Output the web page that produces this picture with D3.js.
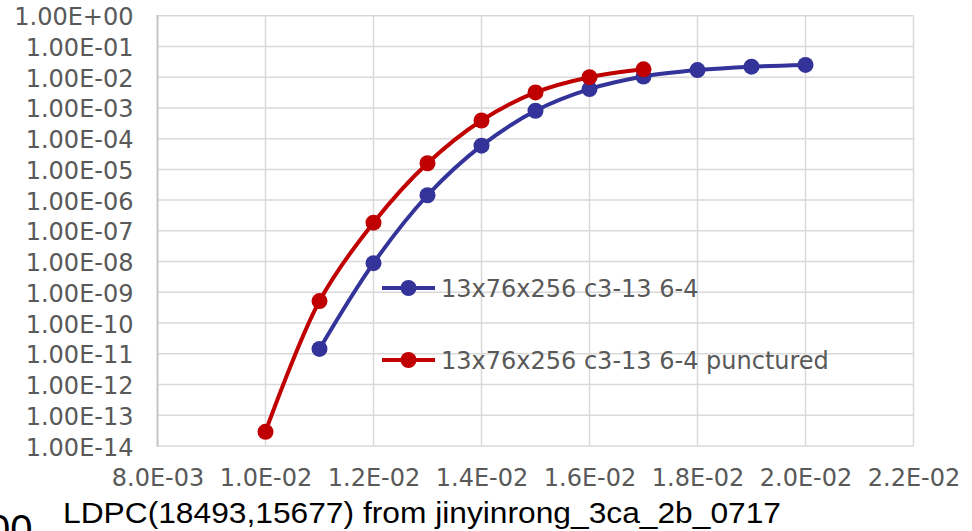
<!DOCTYPE html>
<html>
<head>
<meta charset="utf-8">
<script src="https://cdnjs.cloudflare.com/ajax/libs/d3/7.8.5/d3.min.js"></script>
<style>
  html, body { margin: 0; padding: 0; background: #fff; overflow: hidden; }
  svg { display: block; }
  .tick text { font-family: "DejaVu Sans", Verdana, sans-serif; font-size: 24px; fill: #595959; }
  .legend text { font-family: "DejaVu Sans", Verdana, sans-serif; font-size: 24px; fill: #595959; }
  .caption { font-family: "Liberation Sans", Arial, sans-serif; font-size: 30px; fill: #000; }
</style>
</head>
<body>
<svg id="chart1" width="972" height="531"></svg>
<script>
// values
let seriesNames = ["13x76x256 c3-13 6-4", "13x76x256 c3-13 6-4 punctured"];
let xBlue = [0.011, 0.012, 0.013, 0.014, 0.015, 0.016, 0.017, 0.018, 0.019, 0.020];
let yBlue = [1.44e-11, 8.9e-9, 1.44e-6, 5.9e-5, 8.1e-4, 4.1e-3, 1.05e-2, 1.7e-2, 2.2e-2, 2.5e-2];
let xRed = [0.010, 0.011, 0.012, 0.013, 0.014, 0.015, 0.016, 0.017];
let yRed = [2.9e-14, 5.2e-10, 1.85e-7, 1.58e-5, 3.9e-4, 3.2e-3, 1.0e-2, 1.8e-2];
let xTicks = [0.008, 0.010, 0.012, 0.014, 0.016, 0.018, 0.020, 0.022];
let yTicks = [1, 1e-1, 1e-2, 1e-3, 1e-4, 1e-5, 1e-6, 1e-7, 1e-8, 1e-9, 1e-10, 1e-11, 1e-12, 1e-13, 1e-14];
let captionText = "LDPC(18493,15677) from jinyinrong_3ca_2b_0717";

let margin = [];
margin.left = 157.5;
margin.right = 913.5;
margin.top = 15.7;
margin.bottom = 446;

let colors = ["#333399", "#c00000"];

// 1.00E-05 style labels
function sci(v, digits) {
  let s = v.toExponential(digits).split("e");
  let exp = parseInt(s[1], 10);
  let sign = exp < 0 ? "-" : "+";
  return s[0] + "E" + sign + String(Math.abs(exp)).padStart(2, "0");
}

let svg = d3.select("#chart1");

let xLinear = d3.scaleLinear()
  .domain([0.008, 0.022])
  .range([margin.left, margin.right]);
let yLog = d3.scaleLog()
  .domain([1e-14, 1])
  .range([margin.bottom, margin.top]);

// gridlines
let grid = svg.append("g").attr("class", "grid");
grid.selectAll("line.h")
  .data(yTicks)
  .enter().append("line")
    .attr("class", "h")
    .attr("x1", margin.left).attr("x2", margin.right)
    .attr("y1", (d) => yLog(d)).attr("y2", (d) => yLog(d))
    .attr("stroke", "#d9d9d9").attr("stroke-width", 1.5);
grid.selectAll("line.v")
  .data(xTicks)
  .enter().append("line")
    .attr("class", "v")
    .attr("y1", margin.top).attr("y2", margin.bottom)
    .attr("x1", (d) => xLinear(d)).attr("x2", (d) => xLinear(d))
    .attr("stroke", "#d9d9d9").attr("stroke-width", 1.5);
// left edge is a bit darker
svg.append("line")
  .attr("x1", margin.left).attr("x2", margin.left)
  .attr("y1", margin.top - 0.75).attr("y2", margin.bottom + 0.75)
  .attr("stroke", "#c4c4c4").attr("stroke-width", 1.8);

// axes (no tick marks, no domain)
let xAxis = d3.axisBottom(xLinear)
  .tickValues(xTicks)
  .tickSize(0)
  .tickPadding(0)
  .tickFormat((d) => sci(d, 1));
let xAxisG = svg.append("g")
  .attr("transform", "translate(0," + margin.bottom + ")")
  .call(xAxis);
xAxisG.select(".domain").remove();
xAxisG.selectAll(".tick text").attr("dy", null).attr("y", 40);

let yAxis = d3.axisLeft(yLog)
  .tickValues(yTicks)
  .tickSize(0)
  .tickPadding(0)
  .tickFormat((d) => sci(d, 2));
let yAxisG = svg.append("g")
  .attr("transform", "translate(" + (margin.left - 24) + ",0)")
  .call(yAxis);
yAxisG.select(".domain").remove();
yAxisG.selectAll(".tick text").attr("dy", null).attr("y", 9);

// series
let series = [
  { name: seriesNames[0], xs: xBlue, ys: yBlue, color: colors[0] },
  { name: seriesNames[1], xs: xRed, ys: yRed, color: colors[1] }
];

let line = d3.line()
  .x((d) => xLinear(d[0]))
  .y((d) => yLog(d[1]))
  .curve(d3.curveCatmullRom);

series.forEach((s) => {
  let pts = s.xs.map((x, i) => [x, s.ys[i]]);
  let g = svg.append("g");
  g.append("path")
    .datum(pts)
    .attr("d", line)
    .attr("fill", "none")
    .attr("stroke", s.color)
    .attr("stroke-width", 4)
    .attr("stroke-linejoin", "round");
  g.selectAll("circle")
    .data(pts)
    .enter().append("circle")
      .attr("cx", (d) => xLinear(d[0]))
      .attr("cy", (d) => yLog(d[1]))
      .attr("r", 8)
      .attr("fill", s.color);
});

// legend inside plot
let legend = svg.append("g").attr("class", "legend");
let legendY = [288, 360];
series.forEach((s, i) => {
  let row = legend.append("g").attr("transform", "translate(382," + legendY[i] + ")");
  row.append("line")
    .attr("x1", 0).attr("x2", 53)
    .attr("stroke", s.color).attr("stroke-width", 4);
  row.append("circle")
    .attr("cx", 26.5).attr("r", 8)
    .attr("fill", s.color);
  row.append("text")
    .attr("x", 59).attr("y", 8.5)
    .text(s.name);
});

// caption below chart
svg.append("text")
  .attr("class", "caption")
  .attr("x", 63).attr("y", 523)
  .attr("textLength", 718)
  .attr("lengthAdjust", "spacingAndGlyphs")
  .text(captionText);

// clipped fragment at bottom-left (cut off in the original too)
svg.append("text")
  .attr("class", "caption")
  .attr("x", -12).attr("y", 543)
  .style("font-size", "40px")
  .text("00");
</script>
</body>
</html>
